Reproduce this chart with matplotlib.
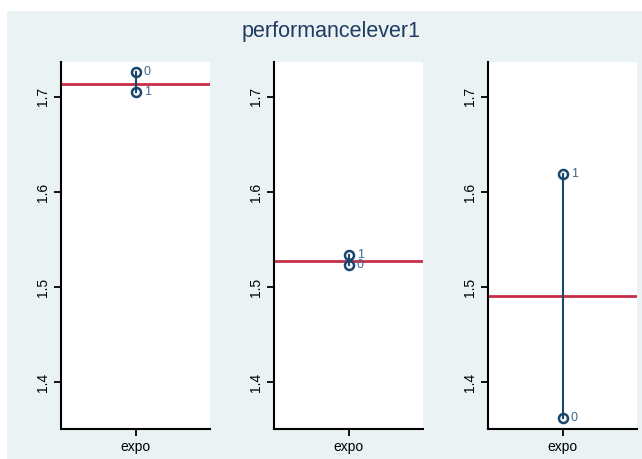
import matplotlib.pyplot as plt
from matplotlib.patches import Rectangle

# values
groups = ['0', '1']
panel_vals = [
    [1.7257, 1.7046],
    [1.5235, 1.5335],
    [1.3628, 1.6188],
]
panel_means = [1.7133, 1.5271, 1.4907]
xlabel = 'expo'
yticks = [1.4, 1.5, 1.6, 1.7]
title = 'performancelever1'

navy = '#1A476F'
red = '#C72D48'
bg = '#EAF2F3'

plt.rcParams['font.family'] = ['Liberation Sans', 'DejaVu Sans']

fig = plt.figure(figsize=(6.42, 4.59), dpi=100)
fig.patch.set_facecolor('white')
fig.patches.append(Rectangle((7 / 642, 0), 1, 1 - 11 / 459, transform=fig.transFigure,
                             facecolor=bg, edgecolor='none', zorder=-10))

lefts = [61, 274, 488]
for k in range(3):
    ax = fig.add_axes([lefts[k] / 642, 30 / 459, 149 / 642, 367 / 459])
    ax.set_facecolor('white')
    vals = panel_vals[k]
    ax.axhline(panel_means[k], color=red, lw=2, zorder=1)
    ax.plot([0, 0], vals, color=navy, lw=1.5, zorder=2)
    ax.plot([0, 0], vals, 'o', ms=6.5, mfc='none', mec=navy, mew=1.8, zorder=3)
    for g, v in zip(groups, vals):
        ax.annotate(g, (0, v), xytext=(6, 0), textcoords='offset points',
                    va='center', ha='left', fontsize=9, color='#3E6A8E')
    ax.set_xlim(-1, 1)
    ax.set_ylim(1.351, 1.7365)
    ax.set_xticks([0])
    ax.set_xticklabels([xlabel], fontsize=10)
    ax.set_yticks(yticks)
    ax.set_yticklabels([f'{t:.1f}' for t in yticks], rotation=90, va='center', fontsize=10)
    for s in ['top', 'right']:
        ax.spines[s].set_visible(False)
    for s in ['left', 'bottom']:
        ax.spines[s].set_linewidth(1.5)
    ax.tick_params(length=5, width=1.3, pad=3)

# title is centred on the grey area, not the whole figure
fig.text(331 / 642, 1 - 32 / 459, title, ha='center', va='center', fontsize=15.5, color='#1F3B63')

fig.savefig('out.png', dpi=100)
